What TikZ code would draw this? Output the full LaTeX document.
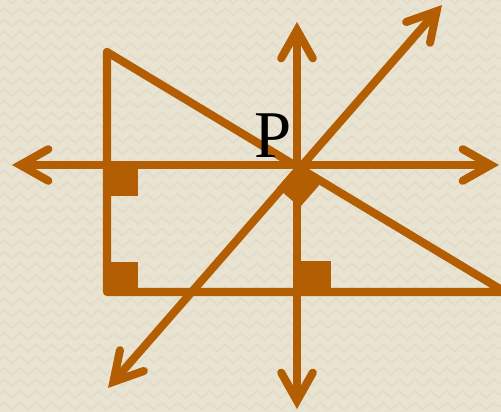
\documentclass[tikz,border=0pt]{standalone}
\usepackage{fontspec}
\usepackage{xcolor}
\usepackage{tikz}
\usetikzlibrary{arrows.meta,decorations.pathmorphing}

\setmainfont{Liberation Serif}
\definecolor{rust}{RGB}{180,94,4}
\definecolor{paper}{RGB}{233,227,210}
\definecolor{paperzig}{RGB}{227,220,202}

\begin{document}
\begin{tikzpicture}[
    x=0.02cm, y=0.02cm,
    ray/.style={draw=rust, line width=4.6pt, line cap=round, line join=round},
    twoway/.style={ray, {Straight Barb[length=16pt,width=18pt,line cap=round]}-{Straight Barb[length=16pt,width=18pt,line cap=round]}},
    rightmark/.style={fill=rust},
    zig/.style={draw=paperzig, line width=1pt, decorate, decoration={zigzag, segment length=9, amplitude=2}},
    ptext/.style={font=\fontsize{38}{40}\selectfont, text=black, inner sep=0pt}
]

    % Background
    \useasboundingbox (0,0) rectangle (501,412);
    \fill[paper] (0,0) rectangle (501,412);
    \begin{scope}
        \clip (0,0) rectangle (501,412);
        \foreach \r in {0,...,35} {
            \draw[zig] (0,{6+\r*11.6}) -- (501,{6+\r*11.6});
        }
    \end{scope}

    % Points
    \coordinate (P) at (297,247);
    \coordinate (west) at (12,247);
    \coordinate (east) at (499,247);
    \coordinate (north) at (297,390);
    \coordinate (south) at (297,3);
    \coordinate (ne) at (442,407);
    \coordinate (sw) at (108,24);
    \coordinate (A) at (107,360);
    \coordinate (B) at (107,120);
    \coordinate (C) at (505,120);

    % Right angle marks
    \fill[rightmark] (107,247) rectangle (138,216);
    \fill[rightmark] (107,150) rectangle (138,120);
    \fill[rightmark] (297,151) rectangle (331,120);
    \fill[rightmark] (P) -- ++(228.8:30) -- ++(318.8:30) -- ++(48.8:30) -- cycle;

    % Triangle
    \draw[ray] (A) -- (B) -- (C) -- cycle;

    % Lines through P
    \draw[twoway] (west) -- (east);
    \draw[twoway] (south) -- (north);
    \draw[twoway] (sw) -- (ne);

    % Label
    \node[ptext] (plabel) at (273,276) {P};

\end{tikzpicture}
\end{document}
